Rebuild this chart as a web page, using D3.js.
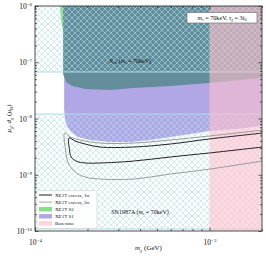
<!DOCTYPE html>
<html><head><meta charset="utf-8">
<script src="https://cdn.jsdelivr.net/npm/d3@7"></script>
<style>
body{margin:0;background:#fff}
svg{display:block}
text{font-family:"Liberation Serif","DejaVu Serif",serif;fill:#111}
</style>
</head><body><svg id="c" width="266" height="256"></svg>
<script>
// ---- data ----
const xDomain = [1e-4, 2e-3];
const yDomain = [1e-10, 1e-6];
const xMajor = [1e-4, 1e-3];
const xMajorExp = ["−4", "−3"];
const yMajor = [1e-10, 1e-9, 1e-8, 1e-7, 1e-6];
const yMajorExp = ["−10", "−9", "−8", "−7", "−6"];

// N_eff excluded region (lower boundary)
const neffX = [1.449e-4,1.449e-4,1.507e-4,1.633e-4,1.937e-4,2.70e-4,3.66e-4,5.97e-4,1e-3,2.02e-3,2.3e-3];
const neffY = [1e-6,6.18e-8,4.46e-8,3.78e-8,3.34e-8,3.21e-8,3.48e-8,3.78e-8,4.28e-8,5.25e-8,5.5e-8];

// XE1T S1 region (lower boundary)
const s1X = [1.469e-4,1.469e-4,1.487e-4,1.527e-4,1.61e-4,1.767e-4,2.07e-4,2.70e-4,3.52e-4,4.58e-4,5.97e-4,7.78e-4,1e-3,1.41e-3,2.02e-3,2.3e-3];
const s1Y = [1e-6,1.416e-8,9.4e-9,7.36e-9,5.75e-9,4.69e-9,4.15e-9,3.82e-9,3.82e-9,4.15e-9,4.69e-9,5.30e-9,6.0e-9,6.5e-9,7.36e-9,7.6e-9];

// XE1T S2 region
const s2X = [1.392e-4,1.41e-4,1.439e-4,1.46e-4,1.46e-4];
const s2Y = [1e-6,5.64e-7,3.9e-7,3.9e-7,1e-6];

// XE1T excess 1 sigma contour
const c1X = [2.2e-3,2.02e-3,1e-3,5.97e-4,3.66e-4,2.366e-4,1.937e-4,1.698e-4,1.566e-4,1.578e-4,1.61e-4,1.72e-4,1.937e-4,2.366e-4,3.66e-4,5.97e-4,1e-3,2.02e-3,2.2e-3];
const c1Y = [5.7e-9,5.52e-9,4.33e-9,3.52e-9,3.11e-9,3.11e-9,3.52e-9,3.98e-9,4.50e-9,2.75e-9,2.07e-9,1.75e-9,1.62e-9,1.62e-9,1.75e-9,2.07e-9,2.44e-9,3.11e-9,3.2e-9];

// XE1T excess 2 sigma contour
const c2X = [2.2e-3,2.02e-3,1e-3,5.97e-4,3.66e-4,2.366e-4,1.815e-4,1.589e-4,1.478e-4,1.497e-4,1.549e-4,1.698e-4,1.937e-4,2.366e-4,3.66e-4,5.97e-4,1e-3,2.02e-3,2.2e-3];
const c2Y = [6.5e-9,6.25e-9,4.89e-9,4.15e-9,3.66e-9,3.66e-9,4.15e-9,4.69e-9,5.52e-9,2.75e-9,1.62e-9,1.12e-9,9.12e-10,8.39e-10,8.39e-10,1.03e-9,1.26e-9,1.75e-9,1.8e-9];

// hatched bands (cosmology / SN1987A)
const hatchLo = [6.71e-8, 1.086e-10];
const hatchHi = [1.3e-6, 1.2e-8];

// Borexino
const borexinoX = [1e-3, 2.5e-3];

const legendLabels = ["XE1T excess, 1σ","XE1T excess, 2σ","XE1T S2","XE1T S1","Borexino"];

// ---- layout ----
const L=35, R=262, T=6, B=231;
const svg = d3.select("#c");
const x = d3.scaleLog().domain(xDomain).range([L,R]);
const y = d3.scaleLog().domain(yDomain).range([B,T]);

const defs = svg.append("defs");
defs.append("clipPath").attr("id","clip").append("rect")
  .attr("x",L).attr("y",T).attr("width",R-L).attr("height",B-T);
const pat = defs.append("pattern").attr("id","hatch").attr("patternUnits","userSpaceOnUse")
  .attr("width",6).attr("height",6);
pat.append("path").attr("d","M0,0L6,6M6,0L0,6M-1,5L1,7M5,-1L7,1M-1,1L1,-1M5,7L7,5")
  .attr("stroke","#ade0ea").attr("stroke-width",0.6).attr("fill","none");

const g = svg.append("g").attr("clip-path","url(#clip)");

const zip = (xs,ys)=>xs.map((v,i)=>[v,ys[i]]);
const area = (xs,ys,top)=>{
  const pts = zip(xs,ys);
  return d3.line().x(d=>x(d[0])).y(d=>y(d[1])).curve(d3.curveLinear)(
    pts.concat([[xs[xs.length-1], top]]));
};

// S1 (purple)
g.append("path").attr("d",area(s1X,s1Y,1e-6)+"Z").attr("fill","#b2a7e6");
// S2 (green)
g.append("path").attr("d",d3.line().x(d=>x(d[0])).y(d=>y(d[1]))(zip(s2X,s2Y))+"Z").attr("fill","#86de86");
// N_eff (teal)
g.append("path").attr("d",area(neffX,neffY,1e-6)+"Z").attr("fill","#648d9c");

// hatched bands
hatchLo.forEach((lo,i)=>{
  const hi = hatchHi[i];
  g.append("rect").attr("x",L).attr("width",R-L)
    .attr("y",y(hi)).attr("height",y(lo)-y(hi)).attr("fill","url(#hatch)");
  [lo,hi].forEach(v=>g.append("line").attr("x1",L).attr("x2",R)
    .attr("y1",y(v)).attr("y2",y(v)).attr("stroke","#a9dce8").attr("stroke-width",1));
});

// Borexino
g.append("rect").attr("x",x(borexinoX[0])).attr("y",T)
  .attr("width",x(borexinoX[1])-x(borexinoX[0])).attr("height",B-T)
  .attr("fill","#ffc0cb").attr("opacity",0.6);

// contours
const cl = d3.line().x(d=>x(d[0])).y(d=>y(d[1])).curve(d3.curveCatmullRom.alpha(0.5));
g.append("path").attr("d",cl(zip(c2X,c2Y))).attr("fill","none").attr("stroke","#9a9a9a").attr("stroke-width",1);
g.append("path").attr("d",cl(zip(c1X,c1Y))).attr("fill","none").attr("stroke","#222").attr("stroke-width",1);

// region labels
svg.append("text").attr("x",130).attr("y",63).attr("text-anchor","middle").attr("font-size",6)
  .html('<tspan font-style="italic">N</tspan><tspan font-size="4" dy="1">eff</tspan><tspan dy="-1"> (</tspan><tspan font-style="italic">m</tspan><tspan font-size="4" dy="1" font-style="italic">s</tspan><tspan dy="-1"> = 70keV)</tspan>');
svg.append("text").attr("x",140).attr("y",214).attr("text-anchor","middle").attr("font-size",6)
  .html('SN1987A (<tspan font-style="italic">m</tspan><tspan font-size="4" dy="1" font-style="italic">s</tspan><tspan dy="-1"> = 70keV)</tspan>');

// top-right annotation box
svg.append("rect").attr("x",187).attr("y",12.5).attr("width",70).attr("height",10.5)
  .attr("fill","#fff").attr("stroke","#777").attr("stroke-width",0.7);
svg.append("text").attr("x",222).attr("y",20).attr("text-anchor","middle").attr("font-size",6.2)
  .html('<tspan font-style="italic">m</tspan><tspan font-size="4.2" dy="1" font-style="italic">s</tspan><tspan dy="-1"> = 70keV, </tspan><tspan font-style="italic">τ</tspan><tspan font-size="4.2" dy="1" font-style="italic">χ</tspan><tspan dy="-1"> = 3</tspan><tspan font-style="italic">t</tspan><tspan font-size="4.2" dy="1">0</tspan>');

// axes
const minorX=[], minorY=[];
for(let e=-4;e<=-3;e++) for(let k=2;k<=9;k++){const v=k*Math.pow(10,e); if(v<=xDomain[1]) minorX.push(v);}
for(let e=-10;e<=-7;e++) for(let k=2;k<=9;k++) minorY.push(k*Math.pow(10,e));

function ax(gen, scale, vals, size, tr){
  const a = svg.append("g").attr("transform",tr)
    .call(gen(scale).tickValues(vals).tickSize(-size).tickFormat(()=>""));
  a.select(".domain").remove();
  a.selectAll(".tick line").attr("stroke","#222").attr("stroke-width",0.7);
  return a;
}
const axB = ax(d3.axisBottom,x,xMajor,3.5,`translate(0,${B})`);
ax(d3.axisBottom,x,minorX,2,`translate(0,${B})`);
ax(d3.axisTop,x,xMajor,3.5,`translate(0,${T})`);
ax(d3.axisTop,x,minorX,2,`translate(0,${T})`);
const axL = ax(d3.axisLeft,y,yMajor,3.5,`translate(${L},0)`);
ax(d3.axisLeft,y,minorY,2,`translate(${L},0)`);
ax(d3.axisRight,y,yMajor,3.5,`translate(${R},0)`);
ax(d3.axisRight,y,minorY,2,`translate(${R},0)`);

axB.selectAll(".tick").append("text").attr("y",8.5).attr("dy","0.7em")
  .attr("text-anchor","middle").attr("font-size",7.5)
  .html((d,i)=>`10<tspan font-size="5" dy="-3.2">${xMajorExp[i]}</tspan>`);
axL.selectAll(".tick").append("text").attr("x",-3).attr("dy","0.35em")
  .attr("text-anchor","end").attr("font-size",7.5)
  .html((d,i)=>`10<tspan font-size="5" dy="-3.2">${yMajorExp[i]}</tspan>`);

svg.append("rect").attr("x",L).attr("y",T).attr("width",R-L).attr("height",B-T)
  .attr("fill","none").attr("stroke","#222").attr("stroke-width",0.8);

// axis labels
svg.append("text").attr("x",(L+R)/2).attr("y",250).attr("text-anchor","middle").attr("font-size",7)
  .html('<tspan font-style="italic">m</tspan><tspan font-size="5" dy="1.5" font-style="italic">χ</tspan><tspan dy="-1.5"> (GeV)</tspan>');
svg.append("text").attr("transform",`translate(11,${(T+B)/2}) rotate(-90)`).attr("text-anchor","middle").attr("font-size",7)
  .html('<tspan font-style="italic">μ</tspan><tspan font-size="5" dy="1.5" font-style="italic">χ</tspan><tspan dy="-1.5">, </tspan><tspan font-style="italic">d</tspan><tspan font-size="5" dy="1.5" font-style="italic">χ</tspan><tspan dy="-1.5"> (</tspan><tspan font-style="italic">μ</tspan><tspan font-size="5" dy="1.5">B</tspan><tspan dy="-1.5">)</tspan>');

// legend
const lg = svg.append("g");
lg.append("rect").attr("x",37).attr("y",190.5).attr("width",60).attr("height",38).attr("rx",1.5)
  .attr("fill","#fff").attr("fill-opacity",0.85).attr("stroke","#ccc").attr("stroke-width",0.6);
const rowY = i=>195+i*7.1;
const handles = [
  {type:"line",color:"#222"},
  {type:"line",color:"#aaa"},
  {type:"rect",color:"#86de86"},
  {type:"rect",color:"#b2a7e6"},
  {type:"rect",color:"#fcd3db"}
];
handles.forEach((h,i)=>{
  if(h.type==="line") lg.append("line").attr("x1",39).attr("x2",52).attr("y1",rowY(i)).attr("y2",rowY(i))
    .attr("stroke",h.color).attr("stroke-width",1);
  else lg.append("rect").attr("x",39).attr("y",rowY(i)-2.2).attr("width",13).attr("height",4.4).attr("fill",h.color);
  lg.append("text").attr("x",55).attr("y",rowY(i)).attr("dy","0.35em").attr("font-size",5).text(legendLabels[i]);
});
</script>
</body></html>
